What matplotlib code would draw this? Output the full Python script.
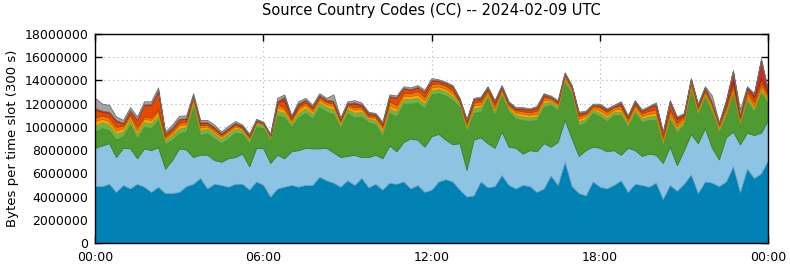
"""Stacked traffic volume by source country code, one day in 15-minute slots."""

import matplotlib

matplotlib.use("Agg")
import matplotlib.pyplot as plt
import numpy as np
from matplotlib.ticker import FuncFormatter

# hours since midnight, one sample per 15 minutes (97 incl. the closing 24:00)
hours = [i / 4 for i in range(97)]

# per-layer bytes per slot, in millions, bottom layer first
cc_blue = [4.9, 4.9, 5.1, 4.4, 5.0, 4.7, 5.1, 4.85, 4.4, 4.85, 4.3, 4.3, 4.4, 4.9, 5.1, 5.6,
           4.7, 5.1, 5.0, 4.85, 5.1, 5.1, 4.6, 5.3, 5.0, 4.0, 4.7, 4.85, 5.0, 4.85, 5.0, 5.0,
           5.7, 5.4, 5.2, 4.85, 5.4, 5.0, 5.6, 4.8, 5.1, 4.6, 5.2, 5.1, 5.3, 4.7, 5.0, 4.4,
           4.6, 5.3, 5.5, 5.3, 4.6, 4.0, 4.1, 5.3, 4.8, 4.9, 5.85, 5.0, 4.7, 5.0, 4.9, 4.4,
           4.7, 5.8, 5.0, 7.0, 4.9, 4.3, 4.1, 5.3, 4.85, 4.7, 5.0, 5.4, 4.4, 5.1, 5.0, 4.85,
           5.2, 3.8, 5.0, 4.5, 5.1, 5.9, 4.3, 5.3, 5.2, 4.9, 5.3, 6.6, 4.4, 6.4, 5.6, 6.0,
           7.15]
cc_lightblue = [3.3, 3.5, 3.5, 3.0, 3.2, 3.45, 2.2, 3.3, 3.6, 3.4, 2.1, 2.85, 3.75, 3.15, 2.3, 2.0,
                2.9, 2.05, 2.0, 2.45, 2.3, 2.6, 2.0, 2.9, 3.15, 2.9, 2.9, 2.45, 2.9, 3.15, 3.2, 3.15,
                2.45, 2.8, 2.6, 2.55, 2.1, 2.6, 1.8, 2.6, 2.5, 2.7, 3.2, 2.8, 3.4, 4.3, 3.9, 3.9,
                4.6, 4.1, 3.4, 3.2, 4.0, 2.3, 4.8, 3.8, 3.8, 3.3, 3.75, 3.3, 3.5, 2.7, 3.1, 3.5,
                3.9, 2.5, 3.7, 3.6, 4.1, 3.2, 3.9, 3.0, 3.35, 3.2, 3.0, 2.2, 3.8, 2.9, 2.5, 2.85,
                2.4, 3.1, 3.3, 2.2, 2.9, 3.5, 4.3, 4.6, 3.0, 2.3, 3.8, 3.0, 4.1, 3.1, 3.7, 3.5,
                3.45]
cc_green = [1.4, 1.5, 1.1, 1.5, 1.0, 2.05, 1.7, 1.85, 1.9, 2.35, 2.1, 1.75, 1.3, 1.55, 4.3, 1.7,
            1.85, 1.85, 1.6, 1.7, 2.1, 1.7, 2.0, 1.8, 1.75, 1.9, 3.4, 3.5, 2.1, 2.8, 3.0, 2.55,
            3.55, 3.1, 3.3, 2.5, 3.7, 3.2, 3.5, 3.0, 2.6, 1.9, 2.8, 3.0, 3.3, 3.0, 3.2, 3.3,
            3.6, 3.5, 3.8, 3.8, 3.1, 3.3, 2.3, 2.2, 3.9, 2.8, 3.1, 3.0, 2.5, 2.9, 2.5, 2.7,
            3.1, 3.6, 2.7, 3.2, 3.8, 2.6, 2.4, 2.9, 2.7, 2.6, 3.0, 3.4, 1.8, 3.2, 2.9, 2.9,
            3.0, 1.5, 2.3, 2.8, 2.2, 3.7, 2.4, 2.6, 3.0, 2.3, 1.8, 3.2, 1.6, 2.7, 2.0, 3.4,
            1.4]
cc_lightgreen = [.5, .5, .5, .5, .4, .4, .4, .4, .4, .4, .3, .4, .4, .4, .4, .4,
                 .4, .4, .35, .4, .35, .3, .3, .3, .25, .25, .4, .4, .3, .4, .4, .4,
                 .4, .4, .4, .3, .35, .4, .4, .3, .35, .4, .4, .4, .4, .4, .4, .4,
                 .35, .35, .35, .35, .3, .35, .4, .4, .3, .35, .3, .3, .3, .3, .3, .3,
                 .35, .3, .3, .3, .3, .35, .3, .3, .3, .3, .3, .3, .3, .3, .3, .3,
                 .35, .3, .35, .3, .3, .3, .3, .3, .3, .3, .3, .3, .3, .3, .3, .3,
                 .3]
cc_yellow = [.4, .3, .3, .3, .3, .3, .3, .3, .3, .3, .2, .2, .3, .25, .3, .25,
             .2, .2, .2, .2, .2, .15, .15, .1, .1, .1, .3, .3, .2, .3, .3, .25,
             .25, .25, .3, .2, .2, .3, .25, .15, .2, .3, .3, .3, .3, .25, .3, .3,
             .25, .25, .25, .25, .15, .2, .25, .25, .2, .25, .2, .2, .25, .25, .25, .25,
             .25, .15, .2, .2, .15, .25, .25, .15, .25, .25, .2, .25, .2, .25, .25, .25,
             .25, .25, .25, .25, .2, .25, .2, .2, .25, .2, .25, .25, .2, .25, .25, .25,
             .2]
cc_orange = [.3, .3, .3, .3, .2, .2, .3, .2, .2, .2, .15, .2, .2, .2, .2, .2,
             .15, .2, .15, .15, .15, .1, .1, .1, .05, .1, .25, .2, .15, .2, .2, .2,
             .2, .2, .2, .15, .15, .2, .2, .1, .15, .2, .3, .3, .25, .25, .3, .3,
             .3, .25, .25, .25, .1, .2, .25, .25, .2, .3, .15, .15, .2, .2, .2, .25,
             .25, .15, .15, .2, .15, .25, .2, .15, .25, .25, .2, .25, .2, .2, .2, .25,
             .3, .25, .3, .3, .2, .3, .2, .2, .25, .2, .25, .3, .2, .3, .3, .3,
             .25]
cc_redorange = [.7, .3, .4, .5, .2, .3, .6, 1.0, 1.1, 1.6, .25, .2, .3, .25, .1, .2,
                .15, .15, .1, .1, .1, .1, .1, .05, .05, .05, .2, .6, .2, .2, .2, .15,
                .15, .15, .2, .1, .1, .3, .15, .2, .15, .15, .4, .6, .35, .3, .3, .4,
                .3, .2, .2, .3, .1, .2, .25, .25, .15, .25, .1, .1, .1, .2, .2, .25,
                .2, .1, .1, .1, .1, .2, .1, .1, .15, .15, .1, .2, .15, .2, .2, .25,
                .4, .25, .6, .35, .15, .15, .15, .15, .1, .1, .35, .3, .15, .3, .4, .4,
                .25]
cc_darkred = [.1, .1, .1, .1, .05, .05, .05, .05, .05, .05, .05, .05, .05, .05, 0, .05,
              .05, .05, .05, .05, .05, .05, .05, .05, 0, 0, .05, .3, .05, .1, .05, .05,
              .05, .05, .05, .05, .05, .1, .05, .05, .05, .05, .05, .05, .05, .05, .05, .05,
              .05, .05, .05, .05, .05, .05, .05, .05, .05, .05, .05, .05, .05, .05, .05, .05,
              .05, 0, .05, 0, 0, .05, .05, 0, .05, .05, 0, .1, .05, .05, .05, .05,
              .1, .05, .1, .1, .05, 0, .05, .05, .05, 0, .15, .85, .05, .05, .25, 1.6,
              .1]
cc_grey = [.9, .6, .6, .3, .25, .25, .25, .25, .25, .25, .15, .25, .25, .25, .2, .2,
           .2, .2, .15, .2, .15, .1, .1, .1, .1, .1, .3, .2, .1, .2, .15, .15,
           .15, .15, .55, .1, .15, .2, .15, .1, .1, .15, .15, .15, .15, .15, .15, .15,
           .15, .1, .1, .1, .1, .1, .1, .1, .1, .1, .1, .1, .1, .1, .1, .1,
           .1, .1, .1, .1, .1, .1, .1, .1, .1, .1, .1, .1, .1, .1, .1, .1,
           .1, .1, .1, .1, .1, .1, .1, .1, .55, .1, .1, .1, .5, .1, .1, .15,
           .1]

layers = [cc_blue, cc_lightblue, cc_green, cc_lightgreen, cc_yellow,
          cc_orange, cc_redorange, cc_darkred, cc_grey]
fills = ["#0083b4", "#8dc4e3", "#4f9a31", "#68b650", "#f5a900",
         "#f27c00", "#e44a00", "#c0321e", "#a3a3a3"]
edges = ["#006b94", "#6fa6c6", "#3d7c25", "#4f9a38", "#d08c00",
         "#c86400", "#b83a00", "#9a2616", "#6e6e6e"]

tick_hours = [0, 6, 12, 18, 24]
tick_labels = ["00:00", "06:00", "12:00", "18:00", "00:00"]

fig = plt.figure(figsize=(7.9, 2.67), dpi=100)
ax = fig.add_axes([95 / 790, 24 / 267, 673 / 790, 209 / 267])

x = np.array(hours)
scaled = [np.array(layer) * 1e6 for layer in layers]
polys = ax.stackplot(x, *scaled, colors=fills, zorder=2)
for poly, edge in zip(polys, edges):
    poly.set_edgecolor(edge)
    poly.set_linewidth(0.6)

ax.set_xlim(0, 24)
ax.set_ylim(0, 18e6)
ax.set_xticks(tick_hours)
ax.set_xticklabels(tick_labels)
ax.set_yticks(np.arange(0, 18e6 + 1, 2e6))
ax.yaxis.set_major_formatter(FuncFormatter(lambda v, _: f"{int(v)}"))

ax.grid(True, color="#b0b0b0", linestyle=(0, (1, 3)), linewidth=0.8, zorder=1)
ax.set_axisbelow(True)
ax.tick_params(direction="in", length=5, width=1, top=True, right=True,
               labelsize=9, colors="black")
ax.tick_params(axis="x", pad=6)
ax.tick_params(axis="y", pad=5)
for spine in ax.spines.values():
    spine.set_linewidth(1)

ax.set_ylabel("Bytes per time slot (300 s)", fontsize=9.5, labelpad=4)
fig.text(431.5 / 790, 1 - 11 / 267, "Source Country Codes (CC) -- 2024-02-09 UTC",
         fontsize=10.5, ha="center", va="center")

fig.savefig("out.png", dpi=100)
